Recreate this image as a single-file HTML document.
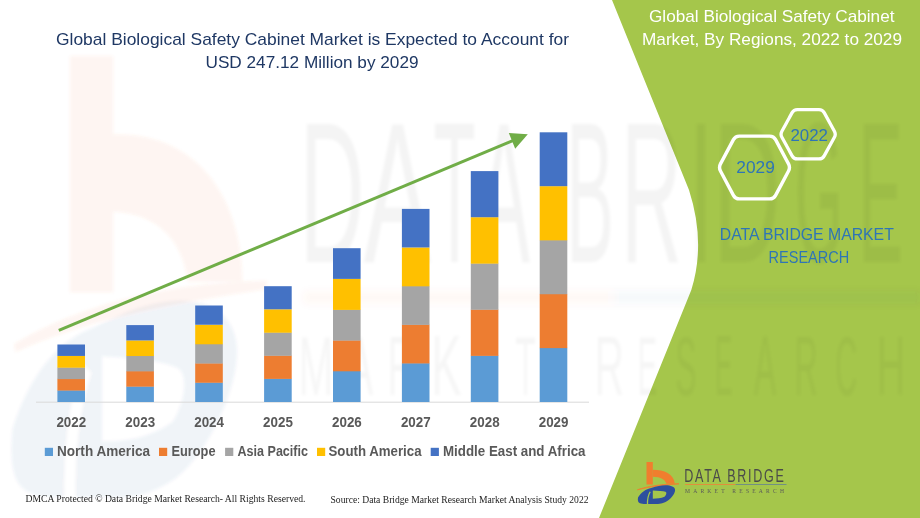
<!DOCTYPE html>
<html><head><meta charset="utf-8">
<style>
html,body{margin:0;padding:0;background:#fff;}
body{width:920px;height:518px;overflow:hidden;position:relative;}
svg{position:absolute;left:0;top:0;display:block;}
text{font-family:"Liberation Sans",sans-serif;}
.serif{font-family:"Liberation Serif",serif;}
</style></head><body>
<svg width="920" height="518" viewBox="0 0 920 518">
<defs>
<filter id="bl" x="-10%" y="-10%" width="120%" height="120%"><feGaussianBlur stdDeviation="1.5"/></filter>
<filter id="bl2" x="-10%" y="-200%" width="120%" height="500%"><feGaussianBlur stdDeviation="4"/></filter>
<g id="logo">
<rect x="646.5" y="462" width="6.3" height="22.5" fill="#F07E2E"/>
<path d="M652.8,469.8 C664,469.8 674,474 674.8,483.8 L666.4,483.8 C665,479.5 661,477 652.8,476.8 Z" fill="#F07E2E"/>
<path d="M637.4,489.8 C650,485.5 665,484 679,483.8 C665,485 650,486.5 637.4,489.8 Z" fill="#F07E2E" stroke="#F07E2E" stroke-width="0.8"/>
<path fill-rule="evenodd" fill="#2D4F9E" d="M638,497.5 C641,492 646,489 651.2,487.9 C657,486.2 661,485.4 665,485.3 C670,485.1 675,486.5 675.1,490 C675.2,494 670,500 665,502.2 C661,503.8 658,504 656.5,504 L646,504 C643,504 641,503.8 640,503.3 C638,502.5 637.5,500.5 638,497.5 Z M652.8,490.6 C658,490.8 663,491 665.5,491.8 C667,492.5 666.5,495 664.5,496.8 C661,498.3 657,498.7 652.8,498.7 Z"/>
<path d="M650.2,491.8 Q647.2,497 647.5,504.5" fill="none" stroke="#A5C64B" stroke-width="1.3"/>
<text transform="translate(685.2,481.5) scale(0.66,1)" x="-1.5" font-size="19" fill="#4A4A4A" textLength="151" lengthAdjust="spacing">DATA BRIDGE</text>
<line x1="685" y1="484.5" x2="735.6" y2="484.5" stroke="#E8893A" stroke-width="0.9"/>
<line x1="735.6" y1="484.5" x2="786.5" y2="484.5" stroke="#6C8A8A" stroke-width="0.9"/>
<text class="serif" x="685" y="493" font-size="5.6" fill="#5A5A5A" textLength="99" lengthAdjust="spacing">MARKET  RESEARCH</text>
</g>
</defs>
<rect width="920" height="518" fill="#ffffff"/>
<!-- green panel -->
<path d="M612,0 L689,190 Q706,243 691.3,290 L599,518 L920,518 L920,0 Z" fill="#A5C64B"/>
<!-- watermark -->
<g filter="url(#bl)">
<g transform="translate(70,56) scale(6.05,10.5) translate(-646.5,-462)">
<g opacity="0.07" fill="#EA6E3E">
<rect x="646.5" y="462" width="7.1" height="22.5"/>
<path d="M652.8,469.5 C668,469 675,476 675,483.5 L666,483.5 C665,479 660,476.8 652.8,476.8 Z"/>
<path d="M637.4,489.8 C650,485.5 665,484 679,483.8 C665,485 650,486.5 637.4,489.8 Z" stroke="#EA6E3E" stroke-width="0.8"/>
</g>
</g>
<g opacity="0.06" transform="translate(64,56) scale(6.05,10.5) translate(-646.5,-462)">
<path fill-rule="evenodd" fill="#3C5A8C" d="M638,497.5 C641,492 646,489 651.2,487.9 C657,486.2 661,485.4 665,485.3 C670,485.1 675,486.5 675.1,490 C675.2,494 670,500 665,502.2 C661,503.8 658,504 656.5,504 L646,504 C643,504 641,503.8 640,503.3 C638,502.5 637.5,500.5 638,497.5 Z M652.8,490.6 C658,490.8 663,491 665.5,491.8 C667,492.5 666.5,495 664.5,496.8 C661,498.3 657,498.7 652.8,498.7 Z"/>
<path d="M650.2,491.8 Q647.2,497 647.5,504.5" fill="none" stroke="#fff" stroke-width="1.6"/>
</g>
<g filter="url(#bl2)" opacity="0.04"><rect x="303" y="291" width="309" height="13" fill="#EA6E3E"/><rect x="612" y="291" width="310" height="13" fill="#3C5A8C"/></g>
<g opacity="0.045" fill="#000">
<text transform="translate(307.00,262.00) scale(0.4461,1)" x="-16.45" font-size="200.58">D</text>
<text transform="translate(364.00,262.00) scale(0.5037,1)" x="-0.39" font-size="200.58">A</text>
<text transform="translate(435.00,262.00) scale(0.3439,1)" x="-4.51" font-size="200.58">T</text>
<text transform="translate(478.00,262.00) scale(0.3910,1)" x="-0.39" font-size="200.58">A</text>
<text transform="translate(572.00,262.00) scale(0.3560,1)" x="-16.45" font-size="200.58">B</text>
<text transform="translate(628.00,262.00) scale(0.4198,1)" x="-16.45" font-size="200.58">R</text>
<text transform="translate(697.00,262.00) scale(0.4277,1)" x="-18.51" font-size="200.58">I</text>
<text transform="translate(721.00,262.00) scale(0.4629,1)" x="-16.45" font-size="200.58">D</text>
<text transform="translate(798.00,262.00) scale(0.3055,1)" x="-10.09" font-size="200.58">G</text>
<text transform="translate(864.00,262.00) scale(0.3311,1)" x="-16.45" font-size="200.58">E</text>

</g>
<g opacity="0.035" fill="#000">
<text transform="translate(302.00,395.00) scale(0.4965,1)" x="-6.92" font-size="84.30">M</text>
<text transform="translate(346.00,395.00) scale(0.4830,1)" x="-0.16" font-size="84.30">A</text>
<text transform="translate(391.00,395.00) scale(0.4195,1)" x="-6.92" font-size="84.30">R</text>
<text transform="translate(435.00,395.00) scale(0.5375,1)" x="-6.92" font-size="84.30">K</text>
<text transform="translate(478.00,395.00) scale(0.3502,1)" x="-6.92" font-size="84.30">E</text>
<text transform="translate(516.00,395.00) scale(0.3986,1)" x="-1.89" font-size="84.30">T</text>
<text transform="translate(598.00,395.00) scale(0.4795,1)" x="-6.92" font-size="84.30">R</text>
<text transform="translate(640.00,395.00) scale(0.3502,1)" x="-6.92" font-size="84.30">E</text>
<text transform="translate(677.00,395.00) scale(0.3709,1)" x="-3.83" font-size="84.30">S</text>
<text transform="translate(717.00,395.00) scale(0.3064,1)" x="-6.92" font-size="84.30">E</text>
<text transform="translate(754.00,395.00) scale(0.3936,1)" x="-0.16" font-size="84.30">A</text>
<text transform="translate(797.00,395.00) scale(0.3796,1)" x="-6.92" font-size="84.30">R</text>
<text transform="translate(837.00,395.00) scale(0.3559,1)" x="-4.28" font-size="84.30">C</text>
<text transform="translate(880.00,395.00) scale(0.4672,1)" x="-6.92" font-size="84.30">H</text>

</g>
</g>
<!-- title -->
<text x="56" y="44.5" font-size="17" fill="#1F3864" textLength="513" lengthAdjust="spacingAndGlyphs">Global Biological Safety Cabinet Market is Expected to Account for</text>
<text x="205.5" y="68" font-size="17" fill="#1F3864" textLength="213" lengthAdjust="spacingAndGlyphs">USD 247.12 Million by 2029</text>
<!-- right title -->
<text x="649" y="21.5" font-size="17" fill="#ffffff" textLength="245.5" lengthAdjust="spacingAndGlyphs">Global Biological Safety Cabinet</text>
<text x="642" y="45" font-size="17" fill="#ffffff" textLength="260" lengthAdjust="spacingAndGlyphs">Market, By Regions, 2022 to 2029</text>
<!-- hexagons -->
<path d="M720.47,170.93 Q718.60,167.40 720.48,163.87 L733.42,139.63 Q735.30,136.10 739.30,136.10 L769.70,136.10 Q773.70,136.10 775.58,139.63 L788.52,163.87 Q790.40,167.40 788.53,170.93 L775.57,195.37 Q773.70,198.90 769.70,198.90 L739.30,198.90 Q735.30,198.90 733.43,195.37 Z" fill="none" stroke="#ffffff" stroke-width="3.4" stroke-linejoin="round"/>
<path d="M781.89,137.31 Q780.20,134.25 781.89,131.19 L792.11,112.66 Q793.80,109.60 797.30,109.60 L819.00,109.60 Q822.50,109.60 824.19,112.66 L834.41,131.19 Q836.10,134.25 834.41,137.31 L824.19,155.84 Q822.50,158.90 819.00,158.90 L797.30,158.90 Q793.80,158.90 792.11,155.84 Z" fill="none" stroke="#ffffff" stroke-width="3.3" stroke-linejoin="round"/>
<text x="790.5" y="140.5" font-size="16.5" fill="#2E75B6" textLength="37.5" lengthAdjust="spacingAndGlyphs">2022</text>
<text x="736.3" y="172.7" font-size="16.5" fill="#2E75B6" textLength="38.5" lengthAdjust="spacingAndGlyphs">2029</text>
<text x="719.8" y="240" font-size="17" fill="#2E75B6" textLength="174" lengthAdjust="spacingAndGlyphs">DATA BRIDGE MARKET</text>
<text x="768.6" y="263" font-size="17" fill="#2E75B6" textLength="80.5" lengthAdjust="spacingAndGlyphs">RESEARCH</text>
<!-- axis -->
<line x1="36" y1="402.2" x2="589" y2="402.2" stroke="#D9D9D9" stroke-width="1"/>
<!-- bars -->
<rect x="57.4" y="390.26" width="27.6" height="11.74" fill="#5B9BD5"/>
<rect x="57.4" y="378.82" width="27.6" height="11.74" fill="#ED7D31"/>
<rect x="57.4" y="367.38" width="27.6" height="11.74" fill="#A5A5A5"/>
<rect x="57.4" y="355.94" width="27.6" height="11.74" fill="#FFC000"/>
<rect x="57.4" y="344.50" width="27.6" height="11.44" fill="#4472C4"/>
<rect x="126.3" y="386.38" width="27.6" height="15.62" fill="#5B9BD5"/>
<rect x="126.3" y="371.06" width="27.6" height="15.62" fill="#ED7D31"/>
<rect x="126.3" y="355.74" width="27.6" height="15.62" fill="#A5A5A5"/>
<rect x="126.3" y="340.42" width="27.6" height="15.62" fill="#FFC000"/>
<rect x="126.3" y="325.10" width="27.6" height="15.32" fill="#4472C4"/>
<rect x="195.2" y="382.46" width="27.6" height="19.54" fill="#5B9BD5"/>
<rect x="195.2" y="363.22" width="27.6" height="19.54" fill="#ED7D31"/>
<rect x="195.2" y="343.98" width="27.6" height="19.54" fill="#A5A5A5"/>
<rect x="195.2" y="324.74" width="27.6" height="19.54" fill="#FFC000"/>
<rect x="195.2" y="305.50" width="27.6" height="19.24" fill="#4472C4"/>
<rect x="264.1" y="378.60" width="27.6" height="23.40" fill="#5B9BD5"/>
<rect x="264.1" y="355.50" width="27.6" height="23.40" fill="#ED7D31"/>
<rect x="264.1" y="332.40" width="27.6" height="23.40" fill="#A5A5A5"/>
<rect x="264.1" y="309.30" width="27.6" height="23.40" fill="#FFC000"/>
<rect x="264.1" y="286.20" width="27.6" height="23.10" fill="#4472C4"/>
<rect x="333.0" y="371.00" width="27.6" height="31.00" fill="#5B9BD5"/>
<rect x="333.0" y="340.30" width="27.6" height="31.00" fill="#ED7D31"/>
<rect x="333.0" y="309.60" width="27.6" height="31.00" fill="#A5A5A5"/>
<rect x="333.0" y="278.90" width="27.6" height="31.00" fill="#FFC000"/>
<rect x="333.0" y="248.20" width="27.6" height="30.70" fill="#4472C4"/>
<rect x="401.9" y="363.14" width="27.6" height="38.86" fill="#5B9BD5"/>
<rect x="401.9" y="324.58" width="27.6" height="38.86" fill="#ED7D31"/>
<rect x="401.9" y="286.02" width="27.6" height="38.86" fill="#A5A5A5"/>
<rect x="401.9" y="247.46" width="27.6" height="38.86" fill="#FFC000"/>
<rect x="401.9" y="208.90" width="27.6" height="38.56" fill="#4472C4"/>
<rect x="470.8" y="355.58" width="27.6" height="46.42" fill="#5B9BD5"/>
<rect x="470.8" y="309.46" width="27.6" height="46.42" fill="#ED7D31"/>
<rect x="470.8" y="263.34" width="27.6" height="46.42" fill="#A5A5A5"/>
<rect x="470.8" y="217.22" width="27.6" height="46.42" fill="#FFC000"/>
<rect x="470.8" y="171.10" width="27.6" height="46.12" fill="#4472C4"/>
<rect x="539.7" y="347.82" width="27.6" height="54.18" fill="#5B9BD5"/>
<rect x="539.7" y="293.94" width="27.6" height="54.18" fill="#ED7D31"/>
<rect x="539.7" y="240.06" width="27.6" height="54.18" fill="#A5A5A5"/>
<rect x="539.7" y="186.18" width="27.6" height="54.18" fill="#FFC000"/>
<rect x="539.7" y="132.30" width="27.6" height="53.88" fill="#4472C4"/>

<!-- arrow -->
<line x1="58.8" y1="330.4" x2="514" y2="140.1" stroke="#70AD47" stroke-width="3"/>
<path d="M527.8,134.3 L508.8,133.1 L515.2,148.8 Z" fill="#70AD47"/>
<!-- year labels -->
<g font-size="14" font-weight="bold" fill="#595959">
<text x="56.4" y="426.8" textLength="29.8" lengthAdjust="spacingAndGlyphs">2022</text>
<text x="125.3" y="426.8" textLength="29.8" lengthAdjust="spacingAndGlyphs">2023</text>
<text x="194.2" y="426.8" textLength="29.8" lengthAdjust="spacingAndGlyphs">2024</text>
<text x="263.1" y="426.8" textLength="29.8" lengthAdjust="spacingAndGlyphs">2025</text>
<text x="332.0" y="426.8" textLength="29.8" lengthAdjust="spacingAndGlyphs">2026</text>
<text x="400.9" y="426.8" textLength="29.8" lengthAdjust="spacingAndGlyphs">2027</text>
<text x="469.8" y="426.8" textLength="29.8" lengthAdjust="spacingAndGlyphs">2028</text>
<text x="538.7" y="426.8" textLength="29.8" lengthAdjust="spacingAndGlyphs">2029</text>

</g>
<!-- legend -->
<rect x="44.8" y="447.8" width="8.2" height="8.2" fill="#5B9BD5"/>
<rect x="159" y="447.8" width="8.2" height="8.2" fill="#ED7D31"/>
<rect x="225.1" y="447.8" width="8.2" height="8.2" fill="#A5A5A5"/>
<rect x="317" y="447.8" width="8.2" height="8.2" fill="#FFC000"/>
<rect x="430.7" y="447.8" width="8.2" height="8.2" fill="#4472C4"/>
<g font-size="14" font-weight="bold" fill="#595959">
<text x="57" y="456" textLength="93" lengthAdjust="spacingAndGlyphs">North America</text>
<text x="171.5" y="456" textLength="44" lengthAdjust="spacingAndGlyphs">Europe</text>
<text x="237.5" y="456" textLength="70.5" lengthAdjust="spacingAndGlyphs">Asia Pacific</text>
<text x="328.5" y="456" textLength="93" lengthAdjust="spacingAndGlyphs">South America</text>
<text x="443" y="456" textLength="142.5" lengthAdjust="spacingAndGlyphs">Middle East and Africa</text>
</g>
<!-- footer -->
<text class="serif" x="25.5" y="501.9" font-size="10.8" fill="#222" textLength="280" lengthAdjust="spacingAndGlyphs">DMCA Protected © Data Bridge Market Research- All Rights Reserved.</text>
<text class="serif" x="330.5" y="502.9" font-size="11.4" fill="#222" textLength="258" lengthAdjust="spacingAndGlyphs">Source: Data Bridge Market Research Market Analysis Study 2022</text>
<!-- logo -->
<use href="#logo"/>
</svg>
</body></html>
